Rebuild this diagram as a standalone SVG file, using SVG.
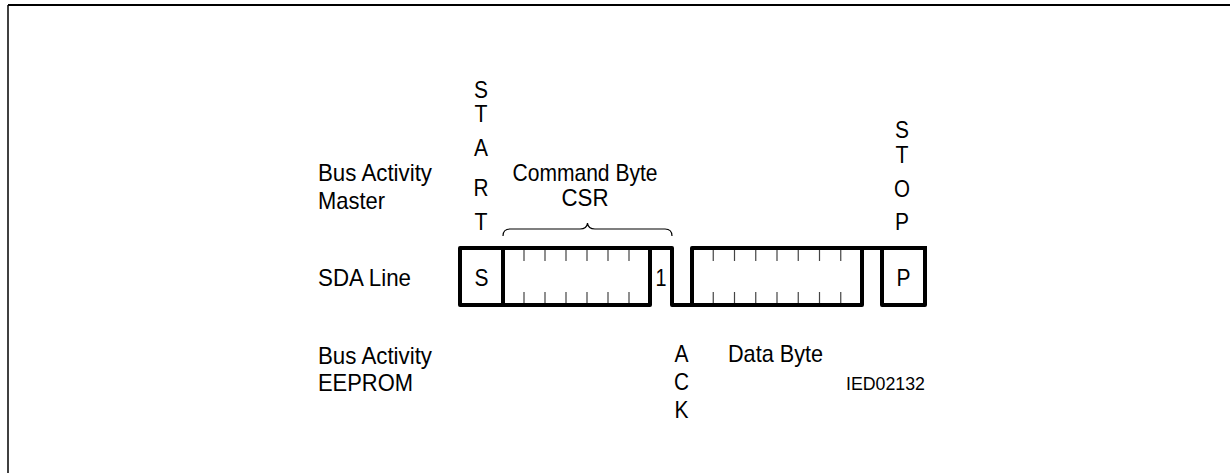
<svg xmlns="http://www.w3.org/2000/svg" width="1230" height="473" viewBox="0 0 1230 473">
<style>
text{font-family:"Liberation Sans",Arial,sans-serif;font-size:24px;fill:#000}
.c{text-anchor:middle}
.v{font-size:23px}
.sig{fill:none;stroke:#000;stroke-width:4;stroke-linejoin:round;stroke-linecap:square}
.tick{stroke:#444;stroke-width:1.2}
.brace{fill:none;stroke:#000;stroke-width:1.2}
.small{font-size:19px}
</style>
<rect width="1230" height="473" fill="#fff"/>
<g id="frame">
<line x1="8" y1="5" x2="1230" y2="5" stroke="#000" stroke-width="2"/>
<line x1="8" y1="5" x2="8" y2="473" stroke="#000" stroke-width="1.5"/>
</g>
<g id="labels">
<text x="318" y="181" textLength="114" lengthAdjust="spacingAndGlyphs">Bus Activity</text>
<text x="318" y="209" textLength="67" lengthAdjust="spacingAndGlyphs">Master</text>
<text x="318" y="286" textLength="93" lengthAdjust="spacingAndGlyphs">SDA Line</text>
<text x="318" y="364" textLength="114" lengthAdjust="spacingAndGlyphs">Bus Activity</text>
<text x="318" y="391" textLength="95" lengthAdjust="spacingAndGlyphs">EEPROM</text>
</g>
<g id="start">
<text class="c v" x="481" y="98" textLength="14" lengthAdjust="spacingAndGlyphs">S</text>
<text class="c v" x="481" y="122" textLength="13" lengthAdjust="spacingAndGlyphs">T</text>
<text class="c v" x="481" y="156" textLength="14" lengthAdjust="spacingAndGlyphs">A</text>
<text class="c v" x="481" y="196" textLength="15" lengthAdjust="spacingAndGlyphs">R</text>
<text class="c v" x="481" y="230" textLength="13" lengthAdjust="spacingAndGlyphs">T</text>
</g>
<g id="stop">
<text class="c v" x="902" y="138" textLength="14" lengthAdjust="spacingAndGlyphs">S</text>
<text class="c v" x="902" y="163" textLength="13" lengthAdjust="spacingAndGlyphs">T</text>
<text class="c v" x="902" y="197" textLength="16" lengthAdjust="spacingAndGlyphs">O</text>
<text class="c v" x="902" y="230" textLength="14" lengthAdjust="spacingAndGlyphs">P</text>
</g>
<g id="command">
<text class="c" x="585" y="181" textLength="145" lengthAdjust="spacingAndGlyphs">Command Byte</text>
<text class="c" x="585" y="206" textLength="47" lengthAdjust="spacingAndGlyphs">CSR</text>
<path class="brace" d="M503,236 Q503,229 510,229 H580 Q587,229 587.5,223 Q588,229 595,229 H665 Q672,229 672,236"/>
</g>
<g id="ack">
<text class="c" x="681.5" y="362" textLength="14" lengthAdjust="spacingAndGlyphs">A</text>
<text class="c" x="681.5" y="390" textLength="15" lengthAdjust="spacingAndGlyphs">C</text>
<text class="c" x="681.5" y="418" textLength="14" lengthAdjust="spacingAndGlyphs">K</text>
</g>
<g id="databyte-label">
<text x="728" y="362" textLength="95" lengthAdjust="spacingAndGlyphs">Data Byte</text>
</g>
<g id="figid">
<text class="small" x="846" y="390" textLength="79" lengthAdjust="spacingAndGlyphs">IED02132</text>
</g>
<g id="sda">
<rect class="sig" x="460" y="248" width="190" height="57"/>
<line class="sig" x1="503" y1="248" x2="503" y2="305"/>
<path class="sig" d="M650,248 H672 V305 H862 V248"/>
<path class="sig" d="M692,305 V248 H925"/>
<rect class="sig" x="882" y="248" width="43" height="57"/>
<text class="c" x="481.5" y="286" textLength="14" lengthAdjust="spacingAndGlyphs">S</text>
<text class="c" x="903.5" y="286" textLength="14" lengthAdjust="spacingAndGlyphs">P</text>
<text class="c" x="661" y="286" textLength="11" lengthAdjust="spacingAndGlyphs">1</text>
<g class="tick">
<line x1="524" y1="250" x2="524" y2="261"/><line x1="524" y1="292" x2="524" y2="303"/>
<line x1="545" y1="250" x2="545" y2="261"/><line x1="545" y1="292" x2="545" y2="303"/>
<line x1="566" y1="250" x2="566" y2="261"/><line x1="566" y1="292" x2="566" y2="303"/>
<line x1="587" y1="250" x2="587" y2="261"/><line x1="587" y1="292" x2="587" y2="303"/>
<line x1="608" y1="250" x2="608" y2="261"/><line x1="608" y1="292" x2="608" y2="303"/>
<line x1="629" y1="250" x2="629" y2="261"/><line x1="629" y1="292" x2="629" y2="303"/>
<line x1="713.25" y1="250" x2="713.25" y2="261"/><line x1="713.25" y1="292" x2="713.25" y2="303"/>
<line x1="734.5" y1="250" x2="734.5" y2="261"/><line x1="734.5" y1="292" x2="734.5" y2="303"/>
<line x1="755.75" y1="250" x2="755.75" y2="261"/><line x1="755.75" y1="292" x2="755.75" y2="303"/>
<line x1="777" y1="250" x2="777" y2="261"/><line x1="777" y1="292" x2="777" y2="303"/>
<line x1="798.25" y1="250" x2="798.25" y2="261"/><line x1="798.25" y1="292" x2="798.25" y2="303"/>
<line x1="819.5" y1="250" x2="819.5" y2="261"/><line x1="819.5" y1="292" x2="819.5" y2="303"/>
<line x1="840.75" y1="250" x2="840.75" y2="261"/><line x1="840.75" y1="292" x2="840.75" y2="303"/>
</g>
</g>
</svg>
